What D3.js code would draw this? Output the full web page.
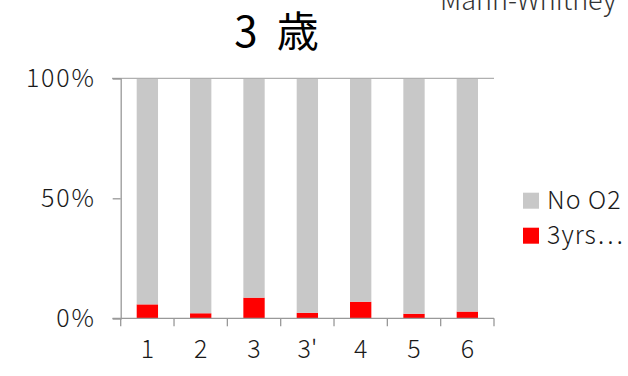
<!DOCTYPE html>
<html><head><meta charset="utf-8">
<script src="https://cdn.jsdelivr.net/npm/d3@7"></script>
<style>body{margin:0;background:#fff}svg{display:block}</style>
</head><body>
<script>
const categories = ["1","2","3","3'","4","5","6"];
const seriesNames = ["No O2","3yrs…"];
const redValues = [5.8, 2.1, 8.6, 2.3, 6.9, 1.9, 2.8];
const yTicks = [0, 50, 100];
const title = "3 歳";
const noteText = "Mann-Whitney";

const W = 628, H = 376;
const font = "'Noto Sans CJK JP','Noto Sans',sans-serif";
const svg = d3.select("body").append("svg").attr("width", W).attr("height", H);

const x = d3.scaleBand().domain(categories).range([120.7, 494]).paddingInner(0.6).paddingOuter(0.3);
const y = d3.scaleLinear().domain([0, 100]).range([318.3, 78.3]);

const rows = categories.map((c, i) => ({c, red: redValues[i], gray: 100 - redValues[i]}));
const stack = d3.stack().keys(["red", "gray"])(rows);
const colors = {red: "#ff0000", gray: "#c8c8c8"};

svg.append("g").selectAll("g").data(stack).join("g")
  .attr("fill", d => colors[d.key])
  .selectAll("rect").data(d => d).join("rect")
  .attr("x", d => x(d.data.c))
  .attr("width", x.bandwidth())
  .attr("y", d => y(d[1]))
  .attr("height", d => y(d[0]) - y(d[1]));

// top line at 100%
svg.append("line").attr("x1", 112).attr("x2", 494).attr("y1", y(100)).attr("y2", y(100))
  .attr("stroke", "#b0b0b0").attr("stroke-width", 1.3);

// y axis
const yAxis = svg.append("g").attr("transform", "translate(120.7,0)")
  .call(d3.axisLeft(y).tickValues(yTicks).tickFormat(d => d + "%").tickSize(8).tickPadding(17));
yAxis.select(".domain").attr("stroke", "#999").attr("stroke-width", 1.3);
yAxis.selectAll(".tick line").attr("stroke", "#999").attr("stroke-width", 1.3);
yAxis.selectAll("text").attr("font-family", font).attr("font-weight", 300).attr("font-size", 25)
  .attr("letter-spacing", 1.8).attr("fill", "#1a1a1a");

// x axis
const xTickPos = d3.range(categories.length + 1).map(i => 120.7 + i * x.step());
const xAxis = svg.append("g").attr("transform", `translate(0,${y(0)})`)
  .call(d3.axisBottom(x).tickSize(0).tickPadding(22));
xAxis.select(".domain").attr("d", `M112.5,0H494`).attr("stroke", "#999").attr("stroke-width", 1.3);
xAxis.selectAll("text").attr("font-family", font).attr("font-weight", 300).attr("font-size", 25).attr("fill", "#1a1a1a");
xAxis.selectAll(".septick").data(xTickPos).join("line").attr("class", "septick")
  .attr("x1", d => d).attr("x2", d => d).attr("y1", 0).attr("y2", 8)
  .attr("stroke", "#999").attr("stroke-width", 1.3);

// title
svg.append("text").attr("x", 279).attr("y", 47).attr("text-anchor", "middle")
  .attr("font-family", font).attr("font-weight", 400).attr("font-size", 42)
  .attr("letter-spacing", 5).attr("fill", "#000").text(title);

// clipped note
svg.append("text").attr("x", 440).attr("y", 10)
  .attr("font-family", font).attr("font-weight", 300).attr("font-size", 27).attr("fill", "#333").text(noteText);

// legend
const legend = svg.append("g");
const legendItems = [{name: seriesNames[0], color: colors.gray, y: 192.7}, {name: seriesNames[1], color: colors.red, y: 227.7}];
legendItems.forEach(it => {
  legend.append("rect").attr("x", 523).attr("y", it.y).attr("width", 16).attr("height", 16).attr("fill", it.color);
  legend.append("text").attr("x", 547).attr("y", it.y + 16).attr("font-family", font).attr("font-weight", 300)
    .attr("font-size", 25).attr("letter-spacing", 1).attr("fill", "#1a1a1a").text(it.name);
});
</script>
</body></html>
